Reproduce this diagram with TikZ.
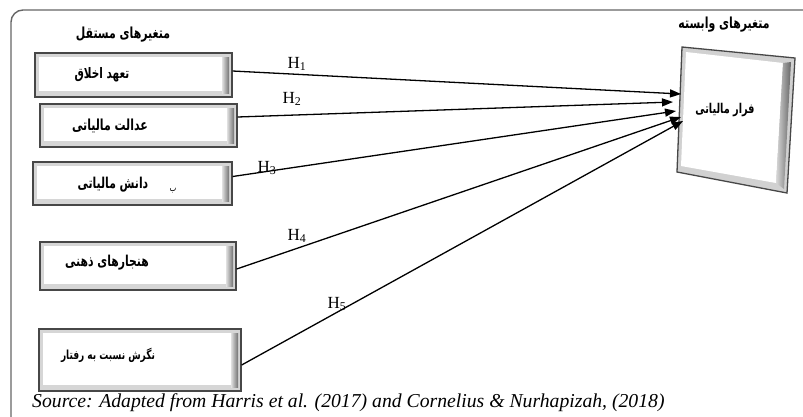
\documentclass[tikz,border=0pt]{standalone}
\usepackage{fontspec}
\setmainfont{Liberation Serif}
\newfontfamily\fafont[Script=Arabic,FakeStretch=0.72]{DejaVu Sans}
\TeXXeTstate=1
\usetikzlibrary{arrows.meta,calc}
\newcommand{\fatxt}[1]{{\fafont\bfseries\beginR #1\endR}}
\tikzset{
  ivbox/.style={draw=black!72, line width=1.3pt, inner sep=0pt,
    path picture={
      \fill[black!16] (path picture bounding box.south west) rectangle (path picture bounding box.north east);
      \fill[white] ($(path picture bounding box.north west)+(4pt,-4pt)$) rectangle ($(path picture bounding box.south east)+(-10pt,6pt)$);
      \shade[left color=black!12, right color=black!55] ($(path picture bounding box.north east)+(-10pt,-4pt)$) rectangle ($(path picture bounding box.south east)+(-3pt,4pt)$);
    }},
  fatext/.style={font=\fontsize{14.5}{16}\selectfont, inner sep=0pt},
  hdtext/.style={font=\fontsize{15.2}{17}\selectfont, inner sep=0pt},
  hlab/.style={font=\fontsize{17}{19}\selectfont, inner sep=0pt},
  conn/.style={line width=1.3pt, -{Triangle[length=11pt,width=8pt]}},
}
\begin{document}
\begin{tikzpicture}[x=1pt,y=-1pt]
\useasboundingbox (0,0) rectangle (803,416);
% frame
\draw[black!60, line width=1.4pt, rounded corners=12pt] (11,420) -- (11,10) -- (810,10);
% headers
\node[hdtext] (hiv) at (123,35) {\fatxt{متغیرهای مستقل}};
\node[hdtext] (hdv) at (724,25) {\fatxt{متغیرهای وابسته}};
% independent boxes
\node[ivbox, minimum width=197pt, minimum height=44pt] (b1) at (133.5,75) {};
\node[ivbox, minimum width=197pt, minimum height=43pt] (b2) at (138.5,125.5) {};
\node[ivbox, minimum width=199pt, minimum height=43pt] (b3) at (132.5,183.5) {};
\node[ivbox, minimum width=196pt, minimum height=48pt] (b4) at (138,266) {};
\node[ivbox, minimum width=202pt, minimum height=62pt] (b5) at (140,360) {};
\node[fatext] (l1) at (102,75) {\fatxt{تعهد اخلاق}};
\node[fatext, font=\fontsize{15.2}{17}\selectfont] (l2) at (110,126) {\fatxt{عدالت مالیاتی}};
\node[fatext, font=\fontsize{15}{17}\selectfont] (l3) at (113,185) {\fatxt{دانش مالیاتی}};
\node[fatext, font=\fontsize{10}{11}\selectfont] (l3b) at (173,191) {{\fafont\beginR ب\endR}};
\node[fatext, font=\fontsize{15}{17}\selectfont] (l4) at (107,263) {\fatxt{هنجارهای ذهنی}};
\node[fatext, font=\fontsize{12.5}{14}\selectfont] (l5) at (108,355) {\fatxt{نگرش نسبت به رفتار}};
% dependent box
\fill[black!18, draw=black!72, line width=1.3pt] (682,47) -- (795,58) -- (787,193) -- (677,172) -- cycle;
\fill[white] (686,52) -- (783,63) -- (776,183) -- (681,166) -- cycle;
\shade[left color=black!15, right color=black!60] (783,63) -- (791,62) -- (784,189) -- (776,183) -- cycle;
\node[fatext, font=\fontsize{13.5}{15}\selectfont] (dv) at (725,110) {\fatxt{فرار مالیاتی}};
% arrow ends
\coordinate (t1) at (681,94);
\coordinate (t2) at (673,102);
\coordinate (t3) at (676,111);
\coordinate (t4) at (681,117);
\coordinate (t5) at (683,121);
\draw[conn] ([yshift=4pt]b1.east) -- (t1);
\draw[conn] ([yshift=8.5pt]b2.east) -- (t2);
\draw[conn] ([yshift=7pt]b3.east) -- (t3);
\draw[conn] ([yshift=-3pt]b4.east) -- (t4);
\draw[conn] ([yshift=-5pt]b5.east) -- (t5);
% hypothesis labels
\node[hlab] (h1) at (297,64) {H\textsubscript{1}};
\node[hlab] (h2) at (292,99) {H\textsubscript{2}};
\node[hlab] (h3) at (267,168) {H\textsubscript{3}};
\node[hlab] (h4) at (297,236) {H\textsubscript{4}};
\node[hlab] (h5) at (337,304) {H\textsubscript{5}};
% source
\node[anchor=west, inner sep=0pt, font=\fontsize{19.7}{21}\selectfont\itshape] (src) at (32,403) {Source: Adapted from Harris et al. (2017) and Cornelius \& Nurhapizah, (2018)};
\end{tikzpicture}
\end{document}
